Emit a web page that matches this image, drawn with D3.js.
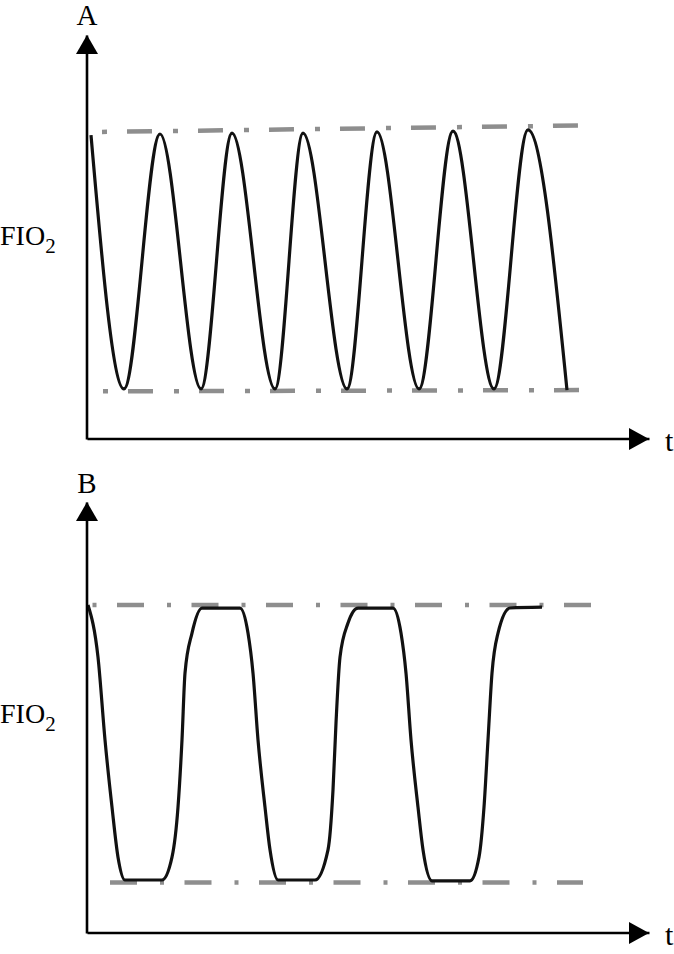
<!DOCTYPE html>
<html>
<head>
<meta charset="utf-8">
<title>FIO2</title>
<script src="https://d3js.org/d3.v7.min.js"></script>
<style>
  body { margin: 0; background: #fff; }
  svg { display: block; }
</style>
</head>
<body>
<div id="grafico"></div>
<script>
// Datos (t en unidades arbitrarias, FIO2 en % del eje)
const panelNames = ['A', 'B'];
const yLabel = 'FIO';
const ySub = '2';
const xLabel = 't';

// Panel A: oscilación sinusoidal (picos y valles)
const timeA = [4, 37, 73, 114, 145, 188, 216, 260, 290, 332, 366, 407, 441, 480];
const fio2A = [75.2, 12.4, 75.5, 12.4, 75.7, 12.4, 75.7, 12.4, 76.0, 12.4, 76.2, 12.4, 76.5, 12.1];
const upperA = [[13, 76.0], [493, 77.6]];
const lowerA = [[13, 11.8], [493, 12.1]];

// Panel B: onda casi cuadrada
const timeB = [1, 11, 18, 25, 31, 38, 75, 85, 91, 95, 98, 105, 115, 153, 161, 166, 171, 178, 183, 191,
               228, 241, 246, 249, 253, 261, 271, 306, 314, 319, 324, 331, 336, 345, 383, 392, 397, 401,
               405, 411, 423, 455];
const fio2B = [76.1, 64.0, 44.8, 29.2, 17.6, 12.3, 12.3, 17.6, 29.2, 44.8, 60.3, 69.6, 75.4, 75.4, 69.6,
               60.3, 44.8, 29.2, 19.3, 12.3, 12.3, 19.3, 33.2, 48.7, 64.0, 71.9, 75.4, 75.4, 69.6, 60.3,
               44.8, 29.2, 19.3, 12.1, 12.1, 17.6, 29.2, 44.8, 60.3, 69.6, 75.4, 75.6];
const upperB = [[5, 76.1], [505, 76.1]];
const lowerB = [[5, 11.7], [496, 11.7]];

const width = 674, height = 954;
const font = "'Liberation Serif', 'Times New Roman', serif";

const svg = d3.select('#grafico').append('svg')
  .attr('width', width)
  .attr('height', height);

svg.append('rect').attr('width', width).attr('height', height).attr('fill', '#fff');

// Escala de tiempo común
const x = d3.scaleLinear().domain([0, 562]).range([87, 649]);

const panels = [
  { name: panelNames[0], t: timeA, v: fio2A, upper: upperA, lower: lowerA,
    yRange: [439, 35], nameY: 25, labelY: 245,
    dash: '25 21 5 20', offA: 44, offB: 43 },
  { name: panelNames[1], t: timeB, v: fio2B, upper: upperB, lower: lowerB,
    yRange: [933, 502], nameY: 493, labelY: 723,
    dash: '27 23 4 20.5', offA: 49.5, offB: 56.5 }
];

panels.forEach(p => {
  const y = d3.scaleLinear().domain([0, 100]).range(p.yRange);
  const g = svg.append('g');

  // Líneas de referencia (máximo y mínimo)
  const ref = d3.line().x(d => x(d[0])).y(d => y(d[1]));
  [[p.upper, p.offA], [p.lower, p.offB]].forEach(([d, off]) => {
    g.append('path')
      .attr('d', ref(d))
      .attr('fill', 'none')
      .attr('stroke', '#8e8e8e')
      .attr('stroke-width', 4.5)
      .attr('stroke-dasharray', p.dash)
      .attr('stroke-dashoffset', off);
  });

  // Curva de FIO2
  const pts = p.t.map((t, i) => [t, p.v[i]]);
  g.append('path')
    .attr('d', d3.line().x(d => x(d[0])).y(d => y(d[1])).curve(d3.curveMonotoneX)(pts))
    .attr('fill', 'none')
    .attr('stroke', '#111')
    .attr('stroke-width', 3.2)
    .attr('stroke-linejoin', 'round');

  // Ejes sin marcas
  const yAxis = g.append('g')
    .attr('transform', 'translate(' + (x(0) - 0.5) + ',0)')
    .call(d3.axisLeft(y).ticks(0).tickSizeOuter(0));
  const xAxis = g.append('g')
    .attr('transform', 'translate(0,' + (y(0) - 0.5) + ')')
    .call(d3.axisBottom(x).ticks(0).tickSizeOuter(0));
  [yAxis, xAxis].forEach(a => a.select('.domain').attr('stroke', '#000').attr('stroke-width', 2.6));

  // Flechas
  const ox = x(0), top = y(100), oy = y(0), right = x(562);
  g.append('path')
    .attr('d', `M${ox},${top} L${ox - 11},${top + 19} L${ox + 11},${top + 19} Z`)
    .attr('fill', '#000');
  g.append('path')
    .attr('d', `M${right},${oy} L${right - 20},${oy - 11} L${right - 20},${oy + 11} Z`)
    .attr('fill', '#000');

  // Textos
  g.append('text')
    .attr('x', ox).attr('y', p.nameY)
    .attr('text-anchor', 'middle')
    .attr('font-family', font).attr('font-size', 29)
    .text(p.name);

  g.append('text')
    .attr('x', right + 16).attr('y', oy + 12)
    .attr('font-family', font).attr('font-size', 30)
    .text(xLabel);

  const lab = g.append('text')
    .attr('x', 0).attr('y', p.labelY)
    .attr('font-family', font).attr('font-size', 28);
  lab.append('tspan').text(yLabel);
  lab.append('tspan').attr('dy', 8).attr('font-size', 21).text(ySub);
});
</script>
</body>
</html>
